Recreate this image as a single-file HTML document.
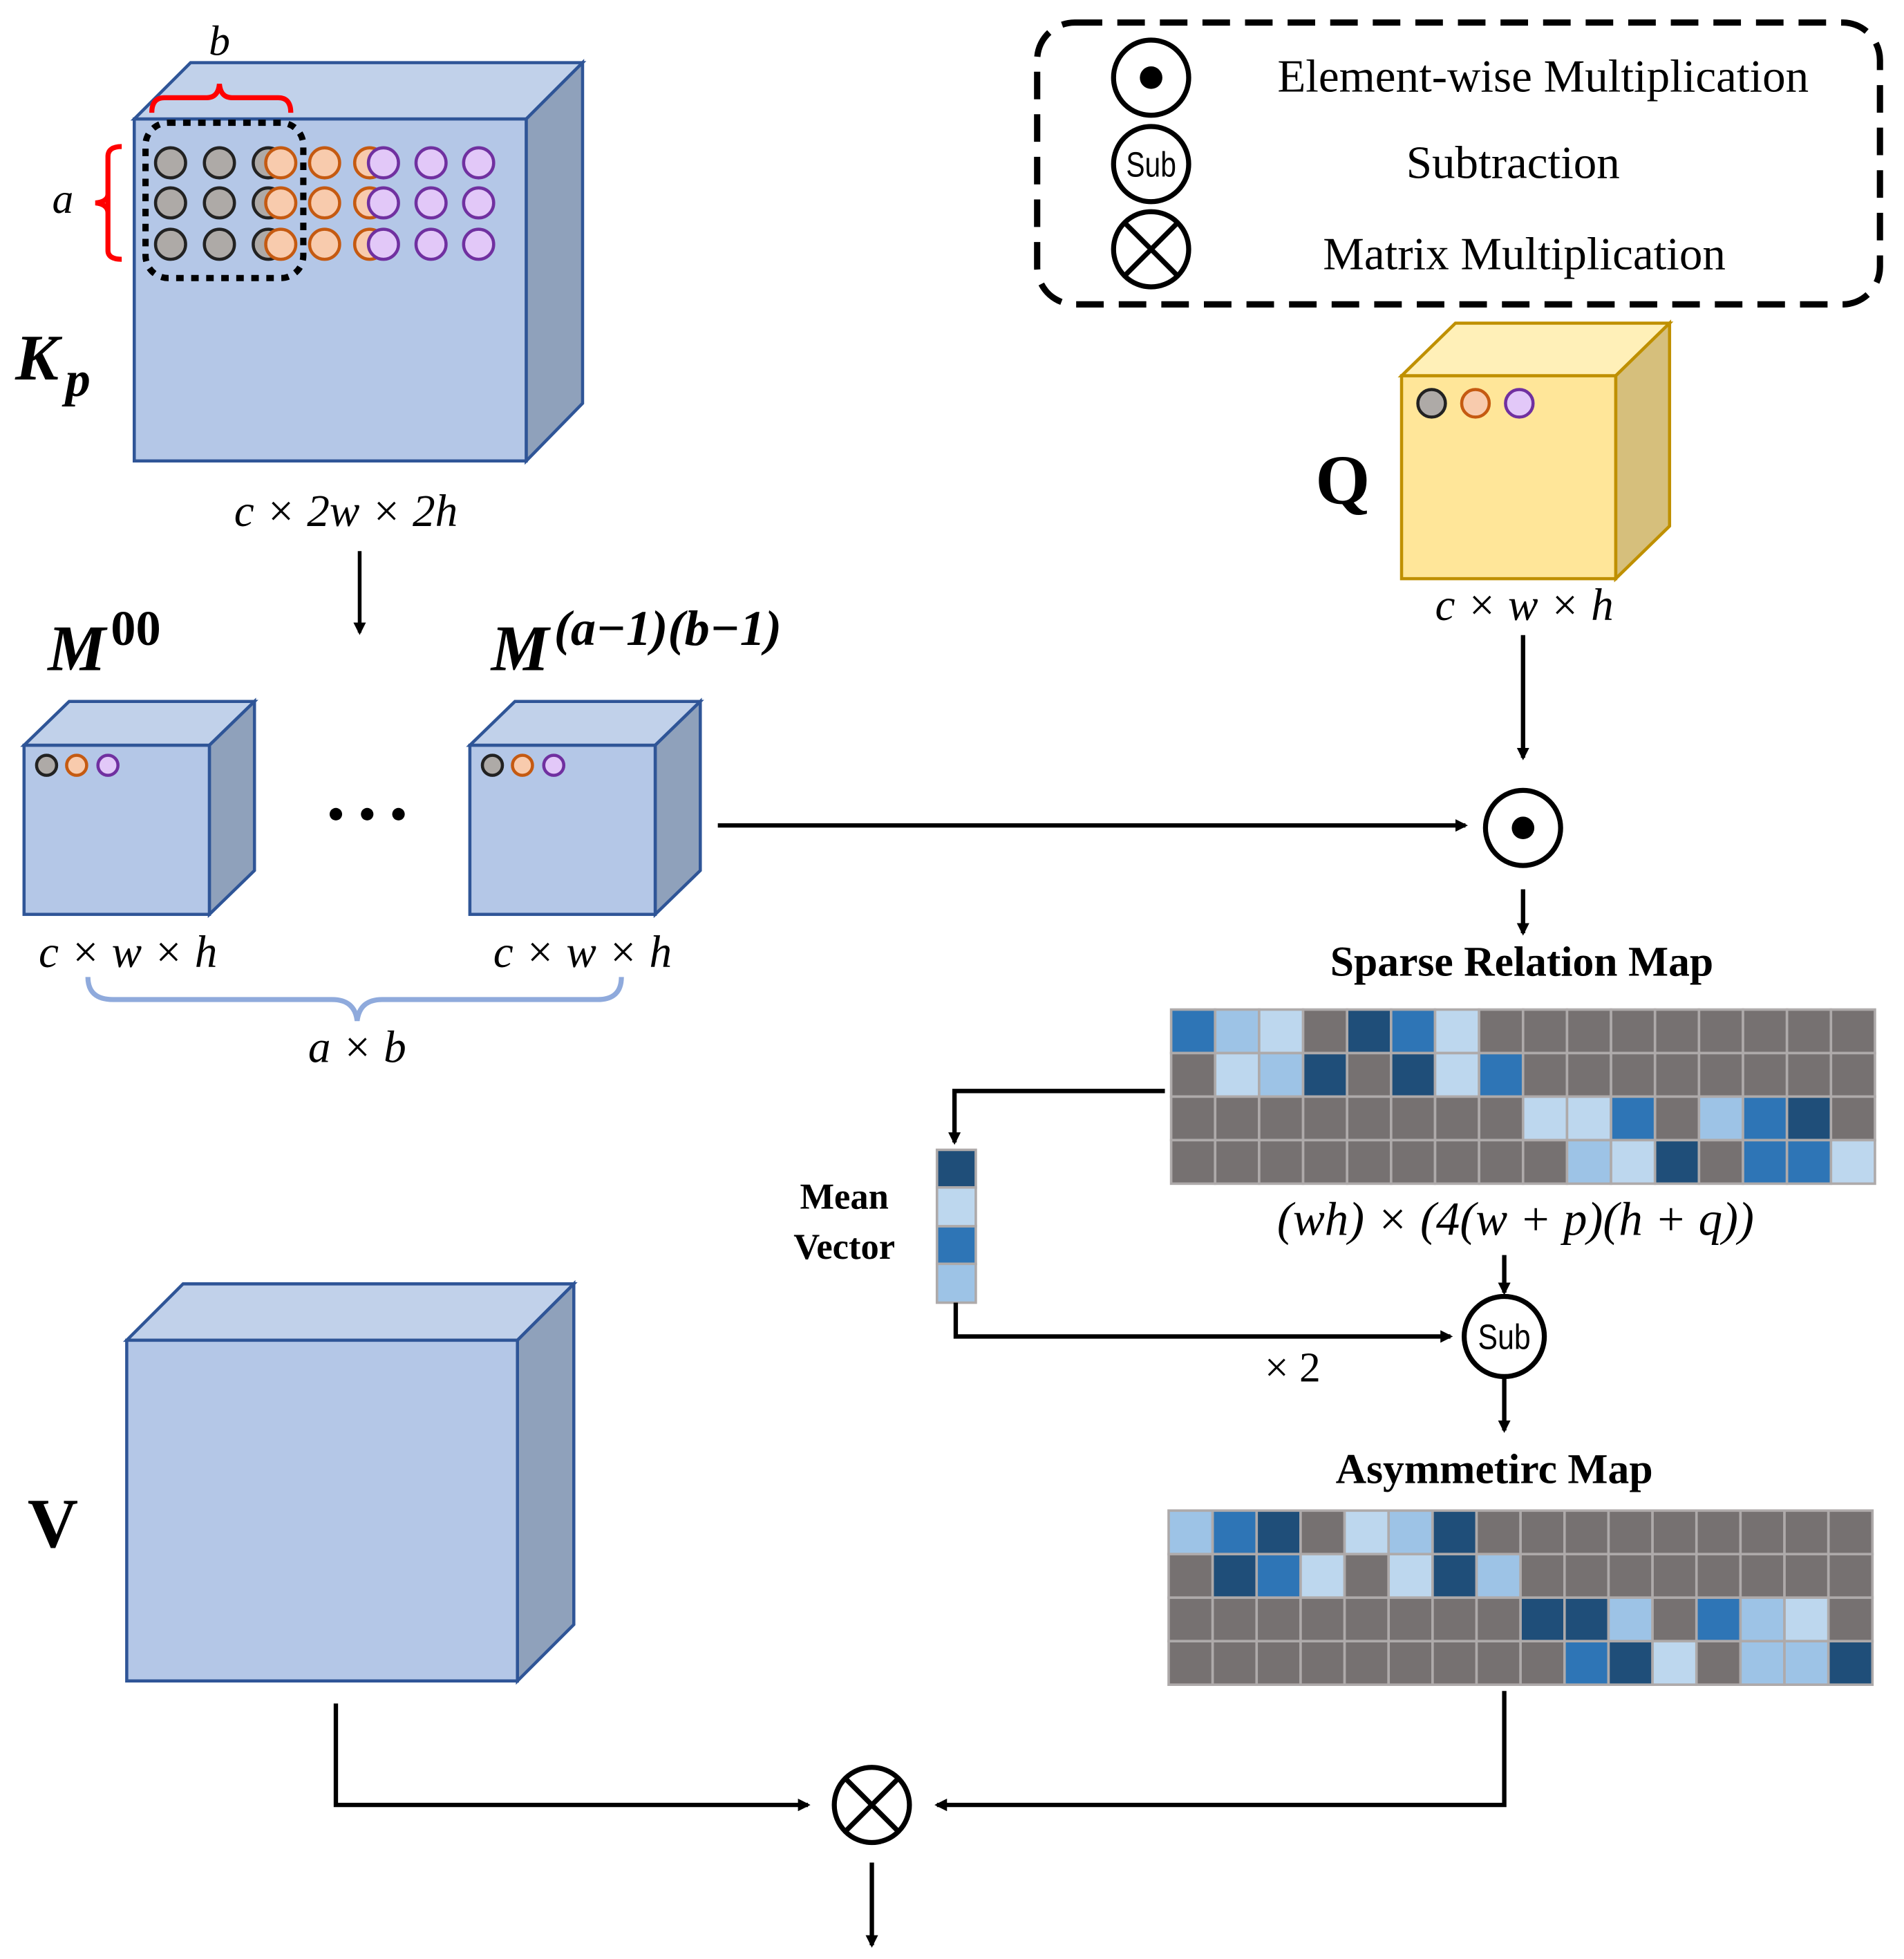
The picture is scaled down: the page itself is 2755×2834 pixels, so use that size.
<!DOCTYPE html>
<html><head><meta charset="utf-8"><style>
html,body{margin:0;padding:0;background:#fff;}
svg{display:block;}
text{font-family:"Liberation Serif",serif;}
</style></head><body>
<svg width="2755" height="2834" viewBox="0 0 1520 1564" xmlns="http://www.w3.org/2000/svg">
<defs>
<marker id="ar" markerWidth="10" markerHeight="10" refX="8" refY="5" orient="auto" markerUnits="userSpaceOnUse">
<path d="M0,0 L10,5 L0,10 Z" fill="#000"/></marker>
</defs>
<rect width="1520" height="1564" fill="#fff"/>

<!-- Legend -->
<rect x="828" y="18" width="673" height="225" rx="30" fill="none" stroke="#000" stroke-width="5" stroke-dasharray="22,12"/>
<circle cx="919" cy="62" r="30" fill="#fff" stroke="#000" stroke-width="4"/><circle cx="919" cy="62" r="9" fill="#000"/>
<circle cx="919" cy="131" r="30" fill="#fff" stroke="#000" stroke-width="4"/>
<text x="919" y="141" font-size="28" text-anchor="middle" style="font-family:'Liberation Sans',sans-serif" textLength="40" lengthAdjust="spacingAndGlyphs">Sub</text>
<circle cx="919" cy="199" r="30" fill="#fff" stroke="#000" stroke-width="4"/>
<path d="M898,178 L940,220 M940,178 L898,220" stroke="#000" stroke-width="4"/>
<text x="1232" y="73" font-size="37" text-anchor="middle">Element-wise Multiplication</text>
<text x="1208" y="142" font-size="37" text-anchor="middle">Subtraction</text>
<text x="1217" y="215" font-size="37" text-anchor="middle">Matrix Multiplication</text>

<!-- Kp cube -->
<polygon points="107,95 152,50 465,50 420,95" fill="#c1d1ea" stroke="#2f5597" stroke-width="2.5"/>
<polygon points="420,95 465,50 465,322 420,368" fill="#8fa1bb" stroke="#2f5597" stroke-width="2.5"/>
<rect x="107" y="95" width="313" height="273" fill="#b4c7e7" stroke="#2f5597" stroke-width="2.5"/>
<g stroke-width="2.5">
<g fill="#aeaaa7" stroke="#222">
<circle cx="136" cy="130" r="12"/><circle cx="175" cy="130" r="12"/><circle cx="214" cy="130" r="12"/>
<circle cx="136" cy="162" r="12"/><circle cx="175" cy="162" r="12"/><circle cx="214" cy="162" r="12"/>
<circle cx="136" cy="195" r="12"/><circle cx="175" cy="195" r="12"/><circle cx="214" cy="195" r="12"/>
</g>
<g fill="#f8cbad" stroke="#c55a11">
<circle cx="224" cy="130" r="12"/><circle cx="259" cy="130" r="12"/><circle cx="295" cy="130" r="12"/>
<circle cx="224" cy="162" r="12"/><circle cx="259" cy="162" r="12"/><circle cx="295" cy="162" r="12"/>
<circle cx="224" cy="195" r="12"/><circle cx="259" cy="195" r="12"/><circle cx="295" cy="195" r="12"/>
</g>
<g fill="#e2c8f8" stroke="#7030a0">
<circle cx="306" cy="130" r="12"/><circle cx="344" cy="130" r="12"/><circle cx="382" cy="130" r="12"/>
<circle cx="306" cy="162" r="12"/><circle cx="344" cy="162" r="12"/><circle cx="382" cy="162" r="12"/>
<circle cx="306" cy="195" r="12"/><circle cx="344" cy="195" r="12"/><circle cx="382" cy="195" r="12"/>
</g>
</g>
<rect x="116" y="98" width="126" height="124" rx="18" fill="none" stroke="#000" stroke-width="5" stroke-dasharray="6,6"/>
<path d="M121,90 Q121,78 131,78 L165,78 Q174,78 175,67 Q176,78 185,78 L222,78 Q232,78 232,90" fill="none" stroke="#f00" stroke-width="4"/>
<path d="M97,117 Q86,117 86,125 L86,200 Q86,207 97,207 M86,155 Q86,161 76,162 Q86,163 86,170" fill="none" stroke="#f00" stroke-width="4"/>
<text x="175" y="44" font-size="34" font-style="italic" text-anchor="middle">b</text>
<text x="50" y="170" font-size="34" font-style="italic" text-anchor="middle">a</text>
<text x="12" y="303" font-size="52" font-style="italic" font-weight="bold">K</text>
<text x="52" y="316" font-size="40" font-style="italic" font-weight="bold">p</text>
<text x="276" y="420" font-size="36" font-style="italic" text-anchor="middle">c × 2w × 2h</text>
<line x1="287" y1="440" x2="287" y2="505" stroke="#000" stroke-width="3" marker-end="url(#ar)"/>

<!-- M cubes -->
<g stroke="#2f5597" stroke-width="2.5">
<polygon points="19,595 55,560 203,560 167,595" fill="#c1d1ea"/>
<polygon points="167,595 203,560 203,695 167,730" fill="#8fa1bb"/>
<rect x="19" y="595" width="148" height="135" fill="#b4c7e7"/>
<polygon points="375,595 411,560 559,560 523,595" fill="#c1d1ea"/>
<polygon points="523,595 559,560 559,695 523,730" fill="#8fa1bb"/>
<rect x="375" y="595" width="148" height="135" fill="#b4c7e7"/>
</g>
<g stroke-width="2.5">
<circle cx="37" cy="611" r="8" fill="#aeaaa7" stroke="#222"/><circle cx="61" cy="611" r="8" fill="#f8cbad" stroke="#c55a11"/><circle cx="86" cy="611" r="8" fill="#e2c8f8" stroke="#7030a0"/>
<circle cx="393" cy="611" r="8" fill="#aeaaa7" stroke="#222"/><circle cx="417" cy="611" r="8" fill="#f8cbad" stroke="#c55a11"/><circle cx="442" cy="611" r="8" fill="#e2c8f8" stroke="#7030a0"/>
</g>
<text x="38" y="535" font-size="52" font-style="italic" font-weight="bold">M<tspan font-size="40" dy="-20" font-style="normal" dx="4">00</tspan></text>
<text x="392" y="535" font-size="52" font-style="italic" font-weight="bold">M<tspan font-size="40" dy="-20" dx="4">(a−1)(b−1)</tspan></text>
<circle cx="268" cy="650" r="5" fill="#000"/><circle cx="293" cy="650" r="5" fill="#000"/><circle cx="318" cy="650" r="5" fill="#000"/>
<text x="102" y="772" font-size="36" font-style="italic" text-anchor="middle">c × w × h</text>
<text x="465" y="772" font-size="36" font-style="italic" text-anchor="middle">c × w × h</text>
<path d="M70,780 Q70,798 90,798 L265,798 Q283,798 285,815 Q287,798 305,798 L477,798 Q496,798 496,780" fill="none" stroke="#8faadc" stroke-width="4"/>
<text x="285" y="848" font-size="36" font-style="italic" text-anchor="middle">a × b</text>
<line x1="573" y1="659" x2="1170" y2="659" stroke="#000" stroke-width="3.5" marker-end="url(#ar)"/>

<!-- Q cube -->
<g stroke="#bf9000" stroke-width="2.5">
<polygon points="1119,300 1162,258 1333,258 1290,300" fill="#fff0b8"/>
<polygon points="1290,300 1333,258 1333,420 1290,462" fill="#d6bf7c"/>
<rect x="1119" y="300" width="171" height="162" fill="#ffe699"/>
</g>
<g stroke-width="2.5">
<circle cx="1143" cy="322" r="11" fill="#aeaaa7" stroke="#222"/><circle cx="1178" cy="322" r="11" fill="#f8cbad" stroke="#c55a11"/><circle cx="1213" cy="322" r="11" fill="#e2c8f8" stroke="#7030a0"/>
</g>
<text x="1072" y="402" font-size="56" font-weight="bold" text-anchor="middle">Q</text>
<text x="1217" y="495" font-size="36" font-style="italic" text-anchor="middle">c × w × h</text>
<line x1="1216" y1="507" x2="1216" y2="605" stroke="#000" stroke-width="3.5" marker-end="url(#ar)"/>
<circle cx="1216" cy="661" r="30" fill="#fff" stroke="#000" stroke-width="4"/><circle cx="1216" cy="661" r="9" fill="#000"/>
<line x1="1216" y1="710" x2="1216" y2="745" stroke="#000" stroke-width="3.5" marker-end="url(#ar)"/>
<text x="1215" y="779" font-size="34" font-weight="bold" text-anchor="middle">Sparse Relation Map</text>

<g id="sg" stroke="#aeaaaa" stroke-width="2"></g>
<text x="1210" y="986" font-size="38" font-style="italic" text-anchor="middle">(wh) × (4(w + p)(h + q))</text>

<!-- mean vector -->
<polyline points="930,871 762,871 762,912" fill="none" stroke="#000" stroke-width="3.5" marker-end="url(#ar)"/>
<g stroke="#aeaaaa" stroke-width="2">
<rect x="748" y="918" width="31" height="30" fill="#1f4e79"/>
<rect x="748" y="948" width="31" height="31" fill="#bdd7ee"/>
<rect x="748" y="979" width="31" height="30" fill="#2e75b6"/>
<rect x="748" y="1009" width="31" height="31" fill="#9dc3e6"/>
</g>
<text x="674" y="965" font-size="29" font-weight="bold" text-anchor="middle">Mean</text>
<text x="674" y="1005" font-size="29" font-weight="bold" text-anchor="middle">Vector</text>
<polyline points="763,1040 763,1067 1158,1067" fill="none" stroke="#000" stroke-width="3.5" marker-end="url(#ar)"/>
<text x="1032" y="1103" font-size="34" text-anchor="middle">× 2</text>
<line x1="1201" y1="1002" x2="1201" y2="1032" stroke="#000" stroke-width="3.5" marker-end="url(#ar)"/>
<circle cx="1201" cy="1067" r="32" fill="#fff" stroke="#000" stroke-width="4"/>
<text x="1201" y="1077" font-size="28" text-anchor="middle" style="font-family:'Liberation Sans',sans-serif" textLength="42" lengthAdjust="spacingAndGlyphs">Sub</text>
<line x1="1201" y1="1100" x2="1201" y2="1142" stroke="#000" stroke-width="3.5" marker-end="url(#ar)"/>
<text x="1193" y="1184" font-size="34" font-weight="bold" text-anchor="middle">Asymmetirc Map</text>
<g id="ag" stroke="#aeaaaa" stroke-width="2"></g>

<!-- V cube -->
<g stroke="#2f5597" stroke-width="2.5">
<polygon points="101,1070 146,1025 458,1025 413,1070" fill="#c1d1ea"/>
<polygon points="413,1070 458,1025 458,1297 413,1342" fill="#8fa1bb"/>
<rect x="101" y="1070" width="312" height="272" fill="#b4c7e7"/>
</g>
<text x="42" y="1235" font-size="56" font-weight="bold" text-anchor="middle">V</text>
<polyline points="268,1360 268,1441 645,1441" fill="none" stroke="#000" stroke-width="3.5" marker-end="url(#ar)"/>
<polyline points="1201,1350 1201,1441 748,1441" fill="none" stroke="#000" stroke-width="3.5" marker-end="url(#ar)"/>
<circle cx="696" cy="1441" r="30" fill="#fff" stroke="#000" stroke-width="4"/>
<path d="M675,1420 L717,1462 M717,1420 L675,1462" stroke="#000" stroke-width="4"/>
<line x1="696" y1="1487" x2="696" y2="1553" stroke="#000" stroke-width="3.5" marker-end="url(#ar)"/>

<script>
(function(){
var C={D:"#1f4e79",M:"#2e75b6",L:"#9dc3e6",X:"#bdd7ee",G:"#767171"};
function grid(id,x0,y0,w,h,rows){
 var g=document.getElementById(id),ns="http://www.w3.org/2000/svg";
 var cw=w/16,ch=h/4;
 rows.forEach(function(r,i){r.split("").forEach(function(c,j){
  var e=document.createElementNS(ns,"rect");
  e.setAttribute("x",x0+j*cw);e.setAttribute("y",y0+i*ch);
  e.setAttribute("width",cw);e.setAttribute("height",ch);
  e.setAttribute("fill",C[c]);g.appendChild(e);});});
}
grid("sg",935,806,562,139,["MLXGDMXGGGGGGGGG","GXLDGDXMGGGGGGGG","GGGGGGGGXXMGLMDG","GGGGGGGGGLXDGMMX"]);
grid("ag",933,1206,562,139,["LMDGXLDGGGGGGGGG","GDMXGXDLGGGGGGGG","GGGGGGGGDDLGMLXG","GGGGGGGGGMDXGLLD"]);
})();
</script>
</svg>
</body></html>
